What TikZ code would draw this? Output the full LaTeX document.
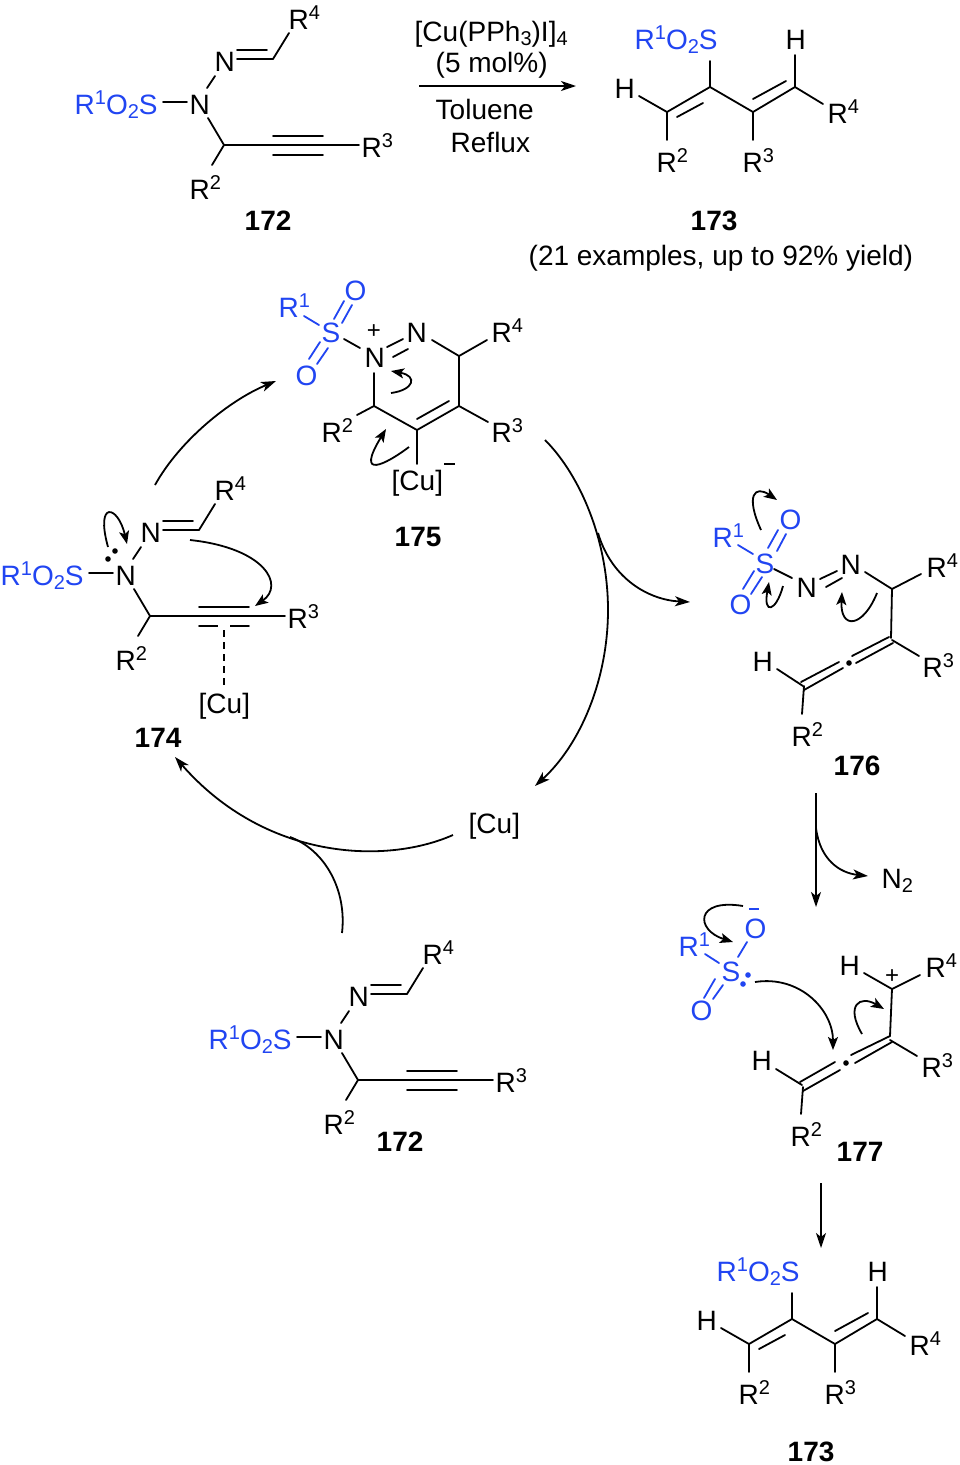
\documentclass[tikz,border=0pt]{standalone}
\usepackage{fontspec}
\setmainfont{Liberation Sans}
\usetikzlibrary{arrows.meta}
\definecolor{sulf}{rgb}{0.13,0.27,0.95}
\newcommand\sps[1]{\raisebox{9.5pt}{\fontsize{20}{20}\selectfont #1}}
\newcommand\sbs[1]{\raisebox{-4.5pt}{\fontsize{20}{20}\selectfont #1}}
\newcommand\Rr[1]{R\sps{#1}}
\newcommand\sulfonyl{\Rr{1}O\sbs{2}S}
% bond between two named end points
\def\bd(#1)(#2){\coordinate (bp) at (#1);\coordinate (bq) at (#2);\draw[bond] (bp) -- (bq);}
\def\bdb(#1)(#2){\coordinate (bp) at (#1);\coordinate (bq) at (#2);\draw[bond,sulf] (bp) -- (bq);}
\def\tx#1(#2)#3{\node[lab] (#1) at (#2) {#3};}
\def\txb#1(#2)#3{\node[lab,text=sulf] (#1) at (#2) {#3};}
\def\ttl#1(#2)#3{\node[lab,font=\fontsize{28}{28}\selectfont\bfseries] (#1) at (#2) {#3};}
\def\dt(#1){\fill (#1) circle (2.8pt);}
% sulfonyl hydrazone 172
\newcommand\molA[1]{%
  \txb{#1a}(76,114){\sulfonyl}
  \tx{#1b}(191,114){N}
  \tx{#1c}(216,71){N}
  \tx{#1d}(290,29){\Rr{4}}
  \tx{#1e}(191,199){\Rr{2}}
  \tx{#1f}(363,157){\Rr{3}}
  \bd(163,102)(187,102)
  \bd(207,88)(215,76)
  \bd(237,59)(273,59)
  \bd(237,50)(267,50)
  \bd(273,59)(289,33)
  \bd(208,118)(224,145)
  \bd(224,145)(212,165)
  \bd(224,145)(359,145)
  \bd(273,136)(323,136)
  \bd(273,155)(323,155)
}
% diene 173
\newcommand\molB[1]{%
  \txb{#1a}(636,49){\sulfonyl}
  \tx{#1b}(616,98){H}
  \tx{#1c}(787,49){H}
  \tx{#1d}(829,123){\Rr{4}}
  \tx{#1e}(658,172){\Rr{2}}
  \tx{#1f}(744,172){\Rr{3}}
  \bd(710,61)(710,87)
  \bd(639,96)(667,112)
  \bd(667,112)(710,87)
  \bd(710,87)(753,112)
  \bd(753,112)(795,87)
  \bd(677,117)(703,103)
  \bd(753,99)(786,81)
  \bd(795,55)(795,87)
  \bd(795,87)(823,104)
  \bd(667,112)(667,140)
  \bd(753,112)(753,140)
}
\begin{document}
\begin{tikzpicture}[x=1pt,y=-1pt,
  bond/.style={line width=1.8pt,line cap=round,line join=round},
  lab/.style={inner sep=0pt,anchor=base west,xshift=-1.5pt,font=\fontsize{28}{28}\selectfont},
  arr/.style={line width=1.8pt,-{Stealth[length=15pt,width=10pt,inset=4pt]}},
  mech/.style={line width=1.8pt,-{Stealth[length=13pt,width=10pt,inset=3pt]}},
  plain/.style={line width=1.8pt}]
\useasboundingbox (0,0) rectangle (960,1465);
\fill[white] (0,0) rectangle (960,1465);

% ---- top reaction
\molA{ta}
\ttl{taL}(246,230){172}
\molB{tb}
\ttl{tbL}(692,230){173}
\tx{yld}(530,265){(21 examples, up to 92\% yield)}
\tx{cat}(416,41){[Cu(PPh\sbs{3})I]\sbs{4}}
\tx{mol}(437,72){(5 mol\%)}
\tx{tol}(437,119){Toluene}
\tx{ref}(452,152){Reflux}
\coordinate (topS) at (419,86);
\coordinate (topE) at (576,86);
\draw[arr] (topS) -- (topE);

% ---- 175
\txb{e1}(280,317){\Rr{1}}
\txb{e2}(323,342){S}
\txb{e3}(346,300){O}
\txb{e4}(297,385){O}
\tx{e5}(366,367){N}
\tx{e6}(408,342){N}
\tx{e7}(493,342){\Rr{4}}
\tx{e8}(493,442){\Rr{3}}
\tx{e9}(323,442){\Rr{2}}
\tx{e10}(393,490){[Cu]}
\node[lab,xshift=1.5pt,anchor=center,font=\fontsize{24}{24}\selectfont] (e11) at (374,332) {+};
\coordinate (em1) at (444,464);\coordinate (em2) at (455,464);
\draw[line width=1.5pt] (em1) -- (em2);
\ttl{e12}(396,546){175}
\bdb(304,316)(319,325)
\bdb(334,319)(344,301)
\bdb(342,323)(352,305)
\bdb(309,359)(320,342)
\bdb(317,364)(328,348)
\bd(344,339)(360,348)
\bd(387,347)(403,339)
\bd(393,357)(408,349)
\bd(432,340)(459,356)
\bd(459,356)(487,340)
\bd(459,356)(459,406)
\bd(459,406)(417,430)
\bd(417,419)(449,401)
\bd(459,406)(488,422)
\bd(374,373)(374,406)
\bd(374,406)(417,430)
\bd(374,406)(357,415)
\bd(417,430)(417,464)
\coordinate (c1s) at (391,393);\coordinate (c1e) at (391,371);
\draw[mech] (c1s) .. controls (414,390) and (418,376) .. (c1e);
\coordinate (c2s) at (409,447);\coordinate (c2e) at (386,429);
\draw[mech] (c2s) .. controls (385,465) and (355,480) .. (c2e);

% ---- 174
\begin{scope}[shift={(-74,471)}]
  \molA{d}
\end{scope}
\coordinate (dCu1) at (224,630);\coordinate (dCu2) at (224,688);
\fill[white] (218,622) rectangle (230,632);
\draw[line width=1.8pt,dash pattern=on 7pt off 5pt] (dCu1) -- (dCu2);
\tx{dCu}(200,713){[Cu]}
\ttl{dL}(136,747){174}
\dt(115,551)
\dt(108,559)
\coordinate (d1s) at (108,547);\coordinate (d1e) at (127,544);
\draw[mech] (d1s) .. controls (95,500) and (118,505) .. (d1e);
\coordinate (d2s) at (190,540);\coordinate (d2e) at (255,606);
\draw[mech] (d2s) .. controls (265,548) and (285,585) .. (d2e);

% ---- 176
\txb{f1}(714,547){\Rr{1}}
\txb{f2}(757,573){S}
\txb{f3}(781,529){O}
\txb{f4}(731,614){O}
\tx{f5}(798,597){N}
\tx{f6}(842,574){N}
\tx{f7}(928,577){\Rr{4}}
\tx{f8}(924,677){\Rr{3}}
\tx{f9}(754,671){H}
\tx{f10}(793,746){\Rr{2}}
\ttl{f11}(835,775){176}
\bdb(738,545)(753,554)
\bdb(768,548)(778,530)
\bdb(777,551)(786,534)
\bdb(743,589)(754,571)
\bdb(751,594)(762,577)
\bd(774,569)(792,578)
\bd(820,579)(837,571)
\bd(826,587)(842,578)
\bd(865,572)(892,589)
\bd(892,589)(921,574)
\bd(892,589)(891,638)
\bd(889,637)(852,656)
\bd(893,643)(856,663)
\bd(839,662)(801,682)
\bd(843,668)(804,690)
\bd(777,669)(803,686)
\bd(804,686)(802,714)
\bd(892,640)(919,656)
\dt(849,663)
\coordinate (f1s) at (761,530);\coordinate (f1e) at (777,500);
\draw[mech] (f1s) .. controls (745,495) and (755,485) .. (f1e);
\coordinate (f2s) at (783,586);\coordinate (f2e) at (769,582);
\draw[mech] (f2s) .. controls (776,612) and (763,615) .. (f2e);
\coordinate (f3s) at (877,593);\coordinate (f3e) at (842,592);
\draw[mech] (f3s) .. controls (863,628) and (840,630) .. (f3e);

% ---- 177
\txb{g1}(680,956){\Rr{1}}
\txb{g2}(723,981){S}
\txb{g3}(746,938){O}
\txb{g4}(692,1020){O}
\tx{g5}(841,975){H}
\tx{g6}(927,977){\Rr{4}}
\tx{g7}(923,1077){\Rr{3}}
\tx{g8}(753,1070){H}
\tx{g9}(792,1146){\Rr{2}}
\ttl{g10}(838,1161){177}
\node[lab,xshift=1.5pt,anchor=center,font=\fontsize{24}{24}\selectfont] (g11) at (892,977) {+};
\coordinate (gm1) at (749,909);\coordinate (gm2) at (759,909);
\draw[line width=1.5pt,sulf] (gm1) -- (gm2);
\bdb(705,954)(719,963)
\bdb(738,957)(747,942)
\bdb(704,998)(715,979)
\bdb(713,999)(723,985)
\bd(890,1036)(892,989)
\bd(892,989)(920,975)
\bd(892,989)(864,973)
\bd(890,1040)(917,1056)
\bd(890,1036)(851,1055)
\bd(892,1042)(855,1063)
\bd(835,1062)(800,1082)
\bd(840,1070)(803,1091)
\bd(776,1069)(802,1085)
\bd(803,1087)(801,1114)
\dt(846,1063)
\begin{scope}[sulf]
\dt(748,975)
\dt(743,984)
\end{scope}
\coordinate (g1s) at (755,982);\coordinate (g1e) at (833,1050);
\draw[mech] (g1s) .. controls (800,975) and (833,1010) .. (g1e);
\coordinate (g2s) at (743,906);\coordinate (g2e) at (733,942);
\draw[mech] (g2s) .. controls (695,898) and (695,930) .. (g2e);
\coordinate (g3s) at (862,1034);\coordinate (g3e) at (884,1009);
\draw[mech] (g3s) .. controls (845,1005) and (860,995) .. (g3e);

% ---- lower 172
\begin{scope}[shift={(134,935)}]
  \molA{h}
\end{scope}
\ttl{hL}(378,1151){172}

% ---- lower 173
\begin{scope}[shift={(82,1232)}]
  \molB{k}
\end{scope}
\ttl{kL}(789,1461){173}

% ---- catalytic cycle
\tx{cu}(470,833){[Cu]}
\tx{ntwo}(883,888){N\sbs{2}}
\coordinate (a1s) at (155,485);\coordinate (a1e) at (276,381);
\draw[arr] (a1s) .. controls (180,440) and (230,400) .. (a1e);
\coordinate (a2s) at (545,440);\coordinate (a2m) at (608,610);\coordinate (a2e) at (535,786);
\draw[arr] (a2s) .. controls (580,475) and (608,540) .. (a2m) .. controls (608,680) and (580,745) .. (a2e);
\coordinate (a3s) at (598,533);\coordinate (a3e) at (690,602);
\draw[arr] (a3s) .. controls (612,580) and (650,600) .. (a3e);
\coordinate (a4s) at (453,835);\coordinate (a4e) at (175,757);
\draw[arr] (a4s) .. controls (385,865) and (265,860) .. (a4e);
\coordinate (a5s) at (342,933);\coordinate (a5e) at (290,837);
\draw[plain] (a5s) .. controls (347,890) and (325,850) .. (a5e);
\coordinate (a6s) at (816,793);\coordinate (a6e) at (816,907);
\draw[arr] (a6s) -- (a6e);
\coordinate (a7s) at (816,828);\coordinate (a7e) at (868,876);
\draw[arr] (a7s) .. controls (820,860) and (840,873) .. (a7e);
\coordinate (a8s) at (821,1183);\coordinate (a8e) at (821,1248);
\draw[arr] (a8s) -- (a8e);
\end{tikzpicture}
\end{document}
